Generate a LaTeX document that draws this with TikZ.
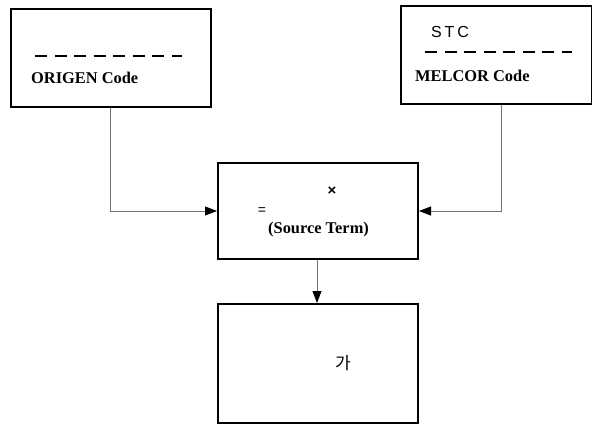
\documentclass[tikz,border=0pt]{standalone}
\usepackage{fontspec}
\setmainfont{Liberation Serif}
\newfontfamily\arialf{Liberation Sans}
\newfontfamily\arialsp[LetterSpace=18]{Liberation Sans}
\newfontfamily\krfont{Noto Sans CJK KR}
\usetikzlibrary{arrows.meta}
\begin{document}
\begin{tikzpicture}[x=1pt,y=-1pt,
  box/.style={draw=black,line width=2pt,minimum width=200pt,anchor=north west,inner sep=0pt},
  conn/.style={draw=black!55,line width=0.8pt},
  arr/.style={conn,-{Triangle[length=12pt,width=9pt,color=black]}},
  dashline/.style={line width=1.5pt,dash pattern=on 12pt off 7.5pt},
  lab/.style={font=\bfseries\fontsize{16.4}{18}\selectfont,inner sep=0pt}]
\useasboundingbox (0,0) rectangle (592,424);
\fill[white] (0,0) rectangle (592,424);
% boxes
\node[box,minimum height=98pt] (origen) at (10,8) {};
\node[box,minimum width=191pt,minimum height=98pt] (melcor) at (400,5) {};
\node[box,minimum height=96pt] (src) at (217,162) {};
\node[box,minimum height=119pt] (res) at (217,303) {};
% box 1 content
\draw[dashline] (35,56) -- (182,56);
\node[lab,anchor=west] (t1) at (31,78) {ORIGEN Code};
% box 2 content
\node[font=\arialsp\fontsize{16}{18}\selectfont,inner sep=0pt,anchor=west] (t2) at (431,32) {STC};
\draw[dashline] (425,52) -- (572,52);
\node[lab,anchor=west] (t3) at (415,76) {MELCOR Code};
% box 3 content
\node[font=\arialf\bfseries\fontsize{15}{17}\selectfont,inner sep=0pt] (t4) at (332,191) {×};
\node[font=\arialf\fontsize{14}{16}\selectfont,inner sep=0pt] (t5) at (262,211) {=};
\node[lab,anchor=west] (t6) at (268,230) {(Source Term)};
% box 4 content
\node[font=\krfont\fontsize{17}{19}\selectfont,inner sep=0pt] (t7) at (343,363) {가};
% connectors
\draw[arr] (origen.south -| 110,0) |- (src.west);
\draw[arr] (melcor.south -| 501,0) |- (src.east);
\draw[arr] (src.south -| 317,0) -- (res.north -| 317,0);
\end{tikzpicture}
\end{document}
